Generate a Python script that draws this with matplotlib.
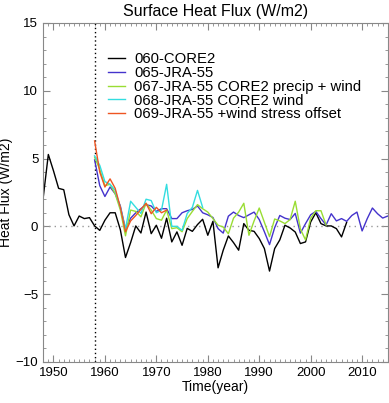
import matplotlib
matplotlib.use("Agg")
import matplotlib.pyplot as plt
from matplotlib.ticker import MultipleLocator

plt.rcParams["font.family"] = ["Liberation Sans", "DejaVu Sans"]

# annual mean surface heat flux (W/m2)
years_core2 = list(range(1948, 2008))
flux_core2 = [2.1, 5.3, 4.1, 2.8, 2.7, 0.86, 0.03, 0.76, 0.57, 0.64,
              0.03, -0.3, 0.45, 1.0, 1.0, -0.25, -2.3, -1.2, 0.03, -0.49,
              1.05, -0.54, 0.08, -0.88, 0.6, -1.15, -0.41, -1.4, -0.15, -0.37,
              0.13, 0.52, -0.66, 0.37, -3.06, -1.76, -0.71, -1.2, -1.76, 0.2,
              -0.29, -0.37, -0.9, -1.64, -3.3, -1.64, -1.0, 0.08, -0.12, -0.42,
              -1.27, -1.15, 0.32, 1.0, 0.2, 0.03, 0.03, -0.17, -0.78, 0.3]

years_jra55 = list(range(1958, 2016))
flux_jra55 = [4.9, 3.0, 2.2, 2.9, 2.4, 1.5, -0.2, 0.6, 1.0, 1.3,
              1.6, 1.5, 1.1, 1.3, 1.3, 0.57, 0.57, 1.0, 1.15, 1.25,
              1.5, 1.0, 0.85, 0.65, -0.17, -0.5, 0.75, 1.05, 0.8, 0.64,
              0.85, 1.05, 0.5, -0.4, -1.35, -0.1, 0.8, 0.6, 0.5, 0.95,
              -0.5, 0.2, 0.85, 1.1, 0.57, 0.1, 0.93, 0.4, 0.57, 0.37,
              0.8, 1.05, -0.34, 0.57, 1.35, 0.93, 0.61, 0.76]

years_067 = list(range(1958, 2004))
flux_067 = [5.1, 4.2, 3.0, 3.1, 2.4, 1.2, -0.7, 1.2, 1.1, 0.7,
            1.7, 1.2, 0.57, 0.45, 1.2, -0.17, -0.1, -0.4, 0.57, 1.1,
            1.6, 1.3, 1.05, 0.57, 0.08, -0.05, -0.55, 0.6, 1.05, 1.7,
            -0.66, 0.4, 1.35, 0.3, -0.76, 0.54, 0.4, 0.2, 0.5, 1.85,
            -0.2, -1.0, 0.6, 1.15, 1.15, 0.1]

years_068 = list(range(1958, 1980))
flux_068 = [5.2, 4.5, 3.3, 3.1, 2.65, 1.4, -0.2, 1.85, 1.4, 0.95,
            2.0, 1.9, 1.0, 1.2, 3.1, 0.0, 0.0, -0.3, 0.95, 1.4,
            2.65, 1.4]

years_069 = list(range(1958, 1973))
flux_069 = [6.3, 4.0, 2.9, 3.5, 2.8, 1.4, -0.4, 0.4, 0.8, 1.25,
            1.7, 0.93, 1.4, 1.0, 1.2]

fig = plt.figure(figsize=(3.89, 4.03), dpi=100)
ax = fig.add_axes([0.111, 0.102, 0.886, 0.841])

ax.axhline(0, color="#999999", ls=(0, (1, 3)), lw=1)
ax.axvline(1958, color="black", ls=(0, (1, 2)), lw=1)

ax.plot(years_core2, flux_core2, color="black", lw=1, label="060-CORE2")
ax.plot(years_jra55, flux_jra55, color="#4433cc", lw=1, label="065-JRA-55")
ax.plot(years_067, flux_067, color="#99dd33", lw=1,
        label="067-JRA-55 CORE2 precip + wind")
ax.plot(years_068, flux_068, color="#33dde0", lw=1,
        label="068-JRA-55 CORE2 wind")
ax.plot(years_069, flux_069, color="#ee5522", lw=1,
        label="069-JRA-55 +wind stress offset")

ax.set_xlim(1948, 2015)
ax.set_ylim(-10, 15)
ax.xaxis.set_major_locator(MultipleLocator(10))
ax.xaxis.set_minor_locator(MultipleLocator(1))
ax.yaxis.set_major_locator(MultipleLocator(5))
ax.yaxis.set_minor_locator(MultipleLocator(1))
ax.tick_params(which="both", direction="in", top=True, right=True,
               color="#888888", labelsize=9.5)
ax.tick_params(which="major", length=5)
ax.tick_params(which="minor", length=2.5)
for s in ax.spines.values():
    s.set_color("#888888")

ax.set_title("Surface Heat Flux (W/m2)", fontsize=11.5, pad=5)
ax.set_xlabel("Time(year)", fontsize=10, labelpad=1)
ax.set_ylabel("Heat Flux (W/m2)", fontsize=10, labelpad=2)

ax.legend(loc="upper left", bbox_to_anchor=(0.165, 0.935), frameon=False,
          fontsize=10.75, handlelength=1.2, handletextpad=0.6,
          labelspacing=-0.02, borderpad=0)

fig.savefig("out.png", dpi=100)
